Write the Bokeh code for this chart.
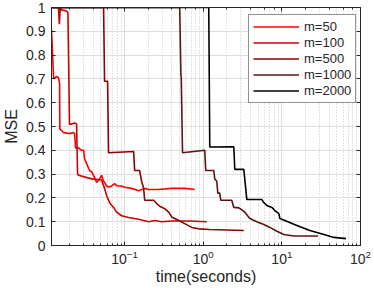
from bokeh.plotting import figure
from bokeh.models import (LogAxis, LinearAxis, Legend, LegendItem, FixedTicker,
                          Range1d, LogTicker)
from bokeh.embed import file_html
from bokeh.resources import INLINE

# ---- data (time in seconds, MSE) ----
labels = ["m=50", "m=100", "m=500", "m=1000", "m=2000"]
colors = ["#ff0000", "#cc0000", "#8b0000", "#5a1414", "#000000"]

t50 = [0.01175, 0.0125, 0.0136, 0.0144, 0.0149, 0.0150, 0.0167, 0.0199, 0.0224, 0.0231,
       0.0238, 0.0259, 0.0283, 0.0301, 0.0309, 0.0328, 0.0358, 0.0380, 0.0415, 0.0440,
       0.0470, 0.0509, 0.0540, 0.0556, 0.0590, 0.0625, 0.0683, 0.0746, 0.0800, 0.0916,
       0.1000, 0.1228, 0.1508, 0.1798, 0.2000, 0.2710, 0.3969, 0.5808, 0.7795]
m50 = [0.907, 0.700, 0.710, 0.705, 0.680, 0.490, 0.475, 0.470, 0.475, 0.470,
       0.410, 0.410, 0.400, 0.400, 0.365, 0.345, 0.315, 0.310, 0.285, 0.265,
       0.275, 0.295, 0.270, 0.265, 0.250, 0.245, 0.250, 0.260, 0.250, 0.250,
       0.245, 0.240, 0.230, 0.240, 0.235, 0.235, 0.240, 0.240, 0.235]

t100 = [0.01175, 0.0144, 0.0148, 0.0152, 0.0158, 0.0182, 0.0190, 0.0199, 0.0211, 0.0231,
        0.0245, 0.0252, 0.0259, 0.0380, 0.0509, 0.0556, 0.0590, 0.0644, 0.0724, 0.0791,
        0.0916, 0.1124, 0.1508, 0.2022, 0.2411, 0.2959, 0.3969, 0.6534, 1.109]
m100 = [1.000, 1.000, 0.930, 1.000, 0.990, 0.985, 0.980, 0.510, 0.510, 0.515,
        0.510, 0.300, 0.295, 0.280, 0.275, 0.240, 0.210, 0.180, 0.160, 0.140,
        0.125, 0.118, 0.110, 0.100, 0.105, 0.100, 0.103, 0.103, 0.100]

t500 = [0.01175, 0.0540, 0.0556, 0.0607, 0.0625, 0.1303, 0.1341, 0.1552, 0.1646, 0.1746,
        0.1798, 0.2341, 0.2411, 0.2791, 0.3233, 0.3635, 0.3969, 0.4875, 0.5808, 0.7139,
        0.8764, 1.210, 3.281]
m500 = [1.000, 1.000, 0.690, 0.690, 0.390, 0.395, 0.315, 0.315, 0.270, 0.240,
        0.190, 0.190, 0.185, 0.165, 0.155, 0.140, 0.120, 0.105, 0.092, 0.076,
        0.070, 0.067, 0.063]

t1000 = [0.01175, 0.5018, 0.520, 0.525, 0.545, 1.045, 1.076, 1.361, 1.400, 1.486,
         1.531, 1.622, 1.671, 2.307, 2.447, 2.833, 3.093, 3.379, 3.911, 4.806,
         5.902, 7.031, 8.635, 10.60, 14.22, 20.81, 28.77]
m1000 = [1.000, 1.000, 0.715, 0.710, 0.390, 0.400, 0.315, 0.315, 0.280, 0.270,
         0.220, 0.220, 0.190, 0.190, 0.160, 0.158, 0.150, 0.140, 0.113, 0.100,
         0.088, 0.076, 0.060, 0.046, 0.040, 0.040, 0.040]

t2000 = [0.01175, 1.175, 1.210, 2.447, 2.518, 3.281, 3.583, 5.563, 5.902, 6.442,
         7.464, 8.147, 9.163, 9.433, 10.92, 15.53, 22.74, 34.28, 45.95, 65.3]
m2000 = [1.000, 1.000, 0.414, 0.415, 0.320, 0.320, 0.193, 0.193, 0.180, 0.168,
         0.160, 0.147, 0.134, 0.113, 0.105, 0.084, 0.063, 0.046, 0.034, 0.029]

y_ticks = [0, 0.1, 0.2, 0.3, 0.4, 0.5, 0.6, 0.7, 0.8, 0.9, 1]
y_tick_labels = ["0", "0.1", "0.2", "0.3", "0.4", "0.5", "0.6", "0.7", "0.8", "0.9", "1"]
x_label = "time(seconds)"
y_label = "MSE"

series = [(t50, m50), (t100, m100), (t500, m500), (t1000, m1000), (t2000, m2000)]

FONT = "Liberation Sans"
AX = "#262626"
W, H = 374, 288
BL, BR, BT, BB = 50, 14, 7, 43

p = figure(width=W, height=H, x_axis_type="log",
           x_range=Range1d(0.01175, 100), y_range=Range1d(0, 1),
           output_backend="svg", toolbar_location=None,
           min_border_left=BL, min_border_right=BR, min_border_top=BT,
           min_border_bottom=BB)
p.background_fill_color = "white"
p.border_fill_color = "white"
p.outline_line_color = AX
p.outline_line_width = 1

renderers = []
for (tx, my), c in zip(series, colors):
    r = p.line(tx, my, line_color=c, line_width=1.6)
    renderers.append(r)

for ax in p.xaxis:
    ax.axis_label = x_label
for ax in p.yaxis:
    ax.axis_label = y_label
    ax.ticker = FixedTicker(ticks=y_ticks)
    ax.major_label_overrides = {k: v for k, v in zip(y_ticks, y_tick_labels)}

def style(ax, show_labels=True):
    ax.axis_line_color = AX
    ax.major_tick_line_color = AX
    ax.minor_tick_line_color = AX
    ax.major_tick_in = 4
    ax.major_tick_out = 0
    ax.minor_tick_in = 2
    ax.minor_tick_out = 0
    ax.major_label_text_font = FONT
    ax.major_label_text_font_size = "14px" if show_labels else "1px"
    ax.major_label_text_color = AX
    if not show_labels:
        ax.major_label_text_alpha = 0
    ax.major_label_standoff = 3 if show_labels else 0
    ax.axis_label_text_font = FONT
    ax.axis_label_text_font_size = "16px"
    ax.axis_label_text_font_style = "normal"
    ax.axis_label_text_color = AX

for ax in p.xaxis:
    style(ax)
    ax.major_label_standoff = 4
    ax.axis_label_standoff = 1
for ax in p.yaxis:
    style(ax)
    ax.minor_tick_line_color = None
    ax.major_label_standoff = 6
    ax.axis_label_standoff = 3

top = LogAxis(ticker=LogTicker())
style(top, show_labels=False)
p.add_layout(top, "above")
right = LinearAxis(ticker=FixedTicker(ticks=y_ticks))
style(right, show_labels=False)
right.minor_tick_line_color = None
p.add_layout(right, "right")

p.xgrid.grid_line_color = "#dedede"
p.ygrid.grid_line_color = "#dedede"
p.ygrid.ticker = FixedTicker(ticks=y_ticks)
p.xgrid.minor_grid_line_color = "#c4c4c4"
p.xgrid.minor_grid_line_dash = "1 2"

legend = Legend(items=[LegendItem(label=l, renderers=[r]) for l, r in zip(labels, renderers)],
                location=(197, 142))
legend.margin = 0
legend.padding = 4
legend.spacing = 1
legend.glyph_width = 46
legend.glyph_height = 13
legend.label_height = 13
legend.label_standoff = 5
legend.label_text_font = FONT
legend.label_text_font_size = "13px"
legend.label_text_color = AX
legend.border_line_color = AX
legend.border_line_width = 1
legend.background_fill_alpha = 1
p.add_layout(legend)

open("out.html", "w").write(file_html(p, INLINE))
